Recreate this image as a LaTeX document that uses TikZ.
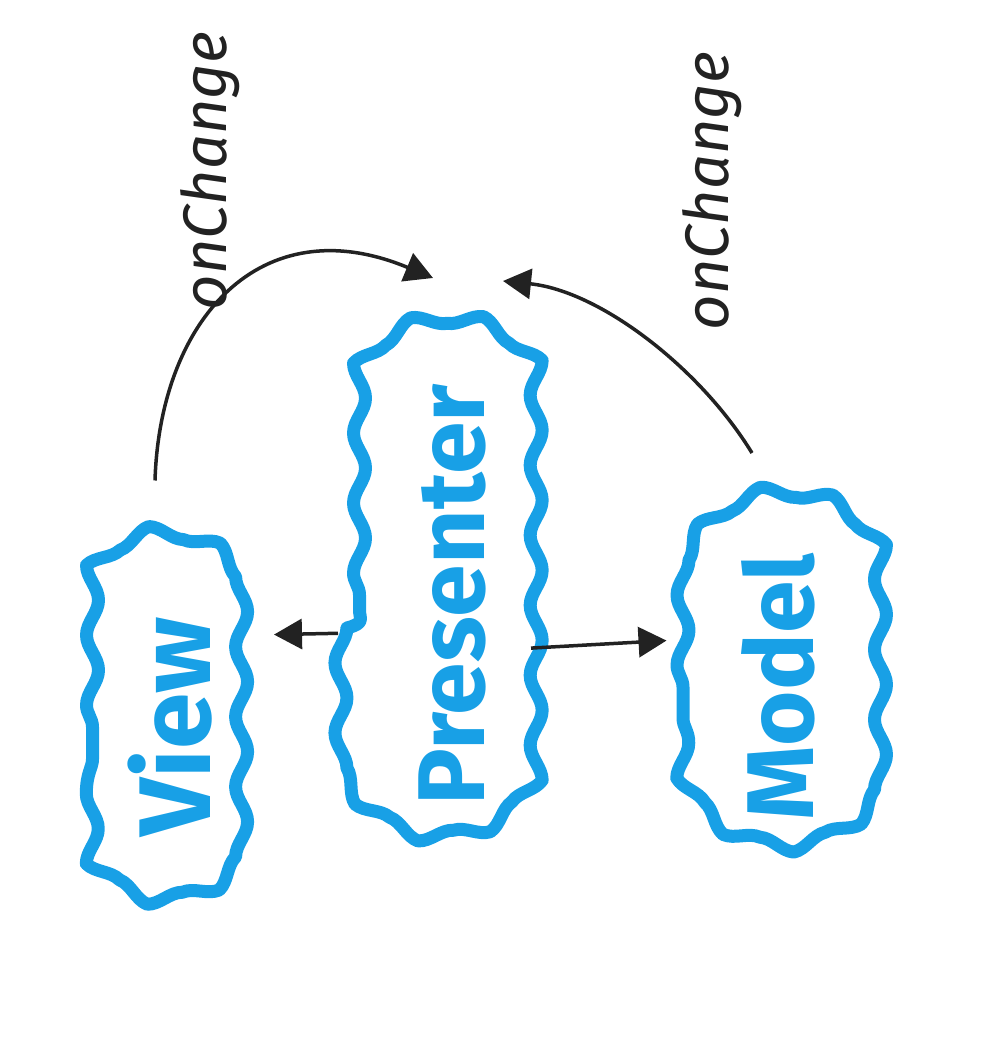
\documentclass[tikz,border=0pt]{standalone}
\usepackage{fontspec}
\setmainfont{Fira Sans}
\usepackage{tikz}
\usetikzlibrary{calc}
\usetikzlibrary{arrows.meta}
\usetikzlibrary{shapes.misc}
\usetikzlibrary{decorations.pathmorphing}

\definecolor{sketchblue}{RGB}{24,160,230}
\definecolor{sketchink}{RGB}{34,34,34}

\tikzset{
  wavybox/.style={rounded rectangle, rounded rectangle arc length=120,
    draw=sketchblue, text=sketchblue, line width=1.3mm, line cap=round, line join=round,
    decorate, decoration={snake, amplitude=0.6mm, segment length=7mm},
    rotate=90, inner sep=0pt, font=\bfseries\fontsize{27}{32}\selectfont},
  link/.style={draw=sketchink, line width=0.35mm, -{Triangle[length=2.8mm, width=3mm]}},
  changelabel/.style={text=sketchink, rotate=90, inner sep=0pt, font=\itshape\fontsize{17.5}{21}\selectfont}
}

\begin{document}
\begin{tikzpicture}
    % [x={(1px)},y={(1px)}] on a 1000 x 1047 page
    [x=0.1mm,y=0.1mm]

    \useasboundingbox (0,0) rectangle (1000,1047);

    \coordinate (V) at ( 170, 320);
    \coordinate (P) at ( 452, 452);
    \coordinate (M) at ( 778, 360);

    \node[wavybox, minimum width=3.6cm, minimum height=1.55cm, font=\bfseries\fontsize{29}{35}\selectfont] (view) at (V) {View};
    \node[wavybox, minimum width=5.25cm, minimum height=1.85cm] (presenter) at (P) {Presenter};
    \node[wavybox, minimum width=3.55cm, minimum height=1.9cm] (model) at (M) {Model};

    \node[changelabel] (viewchange)  at (210, 876) {onChange};
    \node[changelabel] (modelchange) at (712, 856) {onChange};

    % presenter drives both sides
    \draw[link, shorten <=0.15cm, shorten >=0.2cm] ([yshift=-0.38cm]presenter.north) -- ([yshift=0.92cm]view.south);
    \draw[link, shorten <=-0.2cm, shorten >=0.1cm] ([yshift=-0.52cm]presenter.south) -- ([yshift=0.47cm]model.north);

    % change notifications back to the presenter
    \draw[link] ([xshift=-0.15cm, yshift=0.6cm]view.east) .. controls +(5,160) and +(-173,72) .. ([xshift=-0.19cm, yshift=0.48cm]presenter.east);
    \draw[link] ([xshift=-0.26cm, yshift=0.5cm]model.east) .. controls +(-52,85) and +(97,-10) .. ([xshift=0.51cm, yshift=0.45cm]presenter.east);
  \end{tikzpicture}
\end{document}
